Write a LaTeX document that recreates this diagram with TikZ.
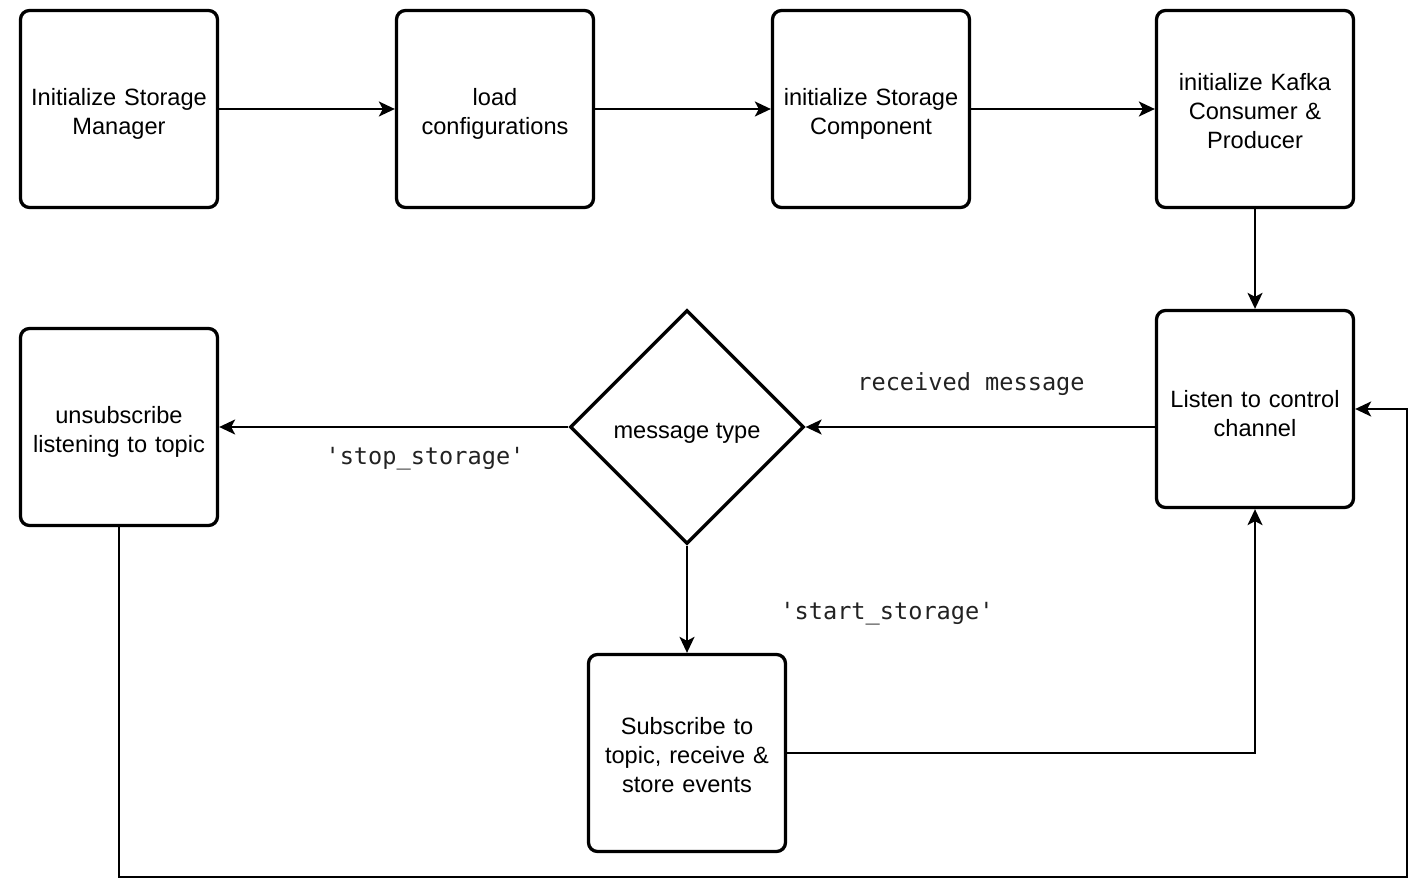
\documentclass[tikz,border=0pt]{standalone}
\usepackage{fontspec}
\setmainfont{Liberation Sans}
\newfontfamily\codefont{DejaVu Sans Mono}
\usetikzlibrary{shapes.geometric,arrows.meta,calc}
\definecolor{codegray}{RGB}{34,34,34}
\tikzset{
  boxbase/.style={draw, line width=3.3pt, rounded corners=9pt, minimum width=197pt, minimum height=197pt,
    inner sep=2pt, align=center, font=\fontsize{23.6}{28.8}\selectfont, text width=190pt},
  procbox/.style={boxbase, execute at begin node={\rule{0pt}{27pt}}},
  procboxthree/.style={boxbase, execute at begin node={\rule{0pt}{21pt}}},
  decision/.style={draw, diamond, aspect=1, line width=3.3pt, minimum width=234pt, minimum height=234pt,
    inner sep=0pt, align=center, font=\fontsize{23.6}{28.8}\selectfont, text height=28pt},
  arr/.style={line width=2pt, -{Stealth[length=16pt,width=15pt,inset=4pt]}},
  codelabel/.style={font=\codefont\fontsize{23.6}{28}\selectfont, text=codegray, inner sep=0pt}
}
\begin{document}
\begin{tikzpicture}[x=1pt,y=-1pt]
\useasboundingbox (0,0) rectangle (1427,885);
\node[procbox] (init) at (119,109) {Initialize Storage\\Manager};
\node[procbox] (load) at (495,109) {load\\configurations};
\node[procbox] (comp) at (871,109) {initialize Storage\\Component};
\node[procboxthree] (kafka) at (1255,109) {initialize Kafka\\Consumer \&\\Producer};
\node[procbox] (listen) at (1255,409) {Listen to control\\channel};
\node[decision] (dia) at (687,427) {message type};
\node[procbox] (unsub) at (119,427) {unsubscribe\\listening to topic};
\node[procboxthree] (sub) at (687,753) {Subscribe to\\topic, receive \&\\store events};
\coordinate (corner) at (1407,877);

\draw[arr] (init) -- (load);
\draw[arr] (load) -- (comp);
\draw[arr] (comp) -- (kafka);
\draw[arr] (kafka) -- (listen);
\draw[arr] (listen.west |- dia.east) -- (dia.east);
\draw[arr] (dia.west) -- (unsub.east |- dia.west);
\draw[arr] (dia.south) -- (sub.north);
\draw[arr] (sub.east) -| (listen.south);
\draw[arr] (unsub.south) |- (corner) |- (listen.east);

\node[codelabel] (lrecv) at (971,384) {received message};
\node[codelabel] (lstop) at (425,459) {'stop\_storage'};
\node[codelabel] (lstart) at (887,614) {'start\_storage'};
\end{tikzpicture}
\end{document}
